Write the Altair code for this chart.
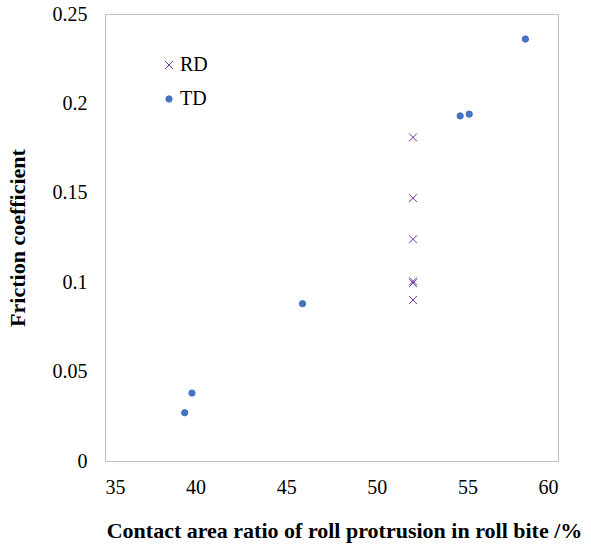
import altair as alt
import pandas as pd

rd_x = [52.0, 52.0, 52.0, 52.0, 52.0, 52.0]
rd_y = [0.181, 0.147, 0.124, 0.1005, 0.0995, 0.090]
td_x = [39.4, 39.8, 45.9, 54.6, 55.1, 58.2]
td_y = [0.027, 0.038, 0.088, 0.193, 0.194, 0.236]
x_ticks = [35, 40, 45, 50, 55, 60]
y_ticks = [0, 0.05, 0.1, 0.15, 0.2, 0.25]

df = pd.DataFrame({
    "x": rd_x + td_x,
    "y": rd_y + td_y,
    "series": ["RD"] * len(rd_x) + ["TD"] * len(td_x),
})

FONT = "Liberation Serif"
XPATH = "M-1.25,-1.25L1.25,1.25M1.25,-1.25L-1.25,1.25"

dom = ["RD", "TD"]
leg = alt.Legend(
    title=None, orient="none", legendX=54, legendY=41,
    labelFont=FONT, labelFontSize=20, labelColor="black",
    rowPadding=14, symbolSize=40, symbolStrokeWidth=1, labelOffset=1,
)

chart = alt.Chart(df).mark_point(size=40, strokeWidth=1, opacity=1).encode(
    x=alt.X("x:Q", scale=alt.Scale(domain=[35, 60], nice=False),
            axis=alt.Axis(values=x_ticks, title="Contact area ratio of roll protrusion in roll bite /%",
                          grid=False, ticks=False, domain=False, labelPadding=16,
                          titlePadding=23, titleX=239)),
    y=alt.Y("y:Q", scale=alt.Scale(domain=[0, 0.25], nice=False),
            axis=alt.Axis(values=y_ticks, format="~g", title="Friction coefficient",
                          grid=False, ticks=False, domain=False, labelPadding=18,
                          titlePadding=23)),
    shape=alt.Shape("series:N", scale=alt.Scale(domain=dom, range=[XPATH, "circle"]), legend=leg),
    fill=alt.Fill("series:N", scale=alt.Scale(domain=dom, range=["transparent", "#4472C4"]), legend=leg),
    stroke=alt.Stroke("series:N", scale=alt.Scale(domain=dom, range=["#7030A0", "#4472C4"]), legend=leg),
).properties(
    width=453, height=447,
    background="white",
    autosize=alt.AutoSizeParams(type="none"),
    padding={"left": 105, "top": 14, "right": 33, "bottom": 84},
).configure_view(
    stroke="#BFBFBF", strokeWidth=1
).configure_axis(
    labelFont=FONT, labelFontSize=20, labelColor="black",
    titleFont=FONT, titleFontSize=22, titleFontWeight="bold", titleColor="black",
)

chart.save("out.html", embed_options={"renderer": "svg", "actions": False})
